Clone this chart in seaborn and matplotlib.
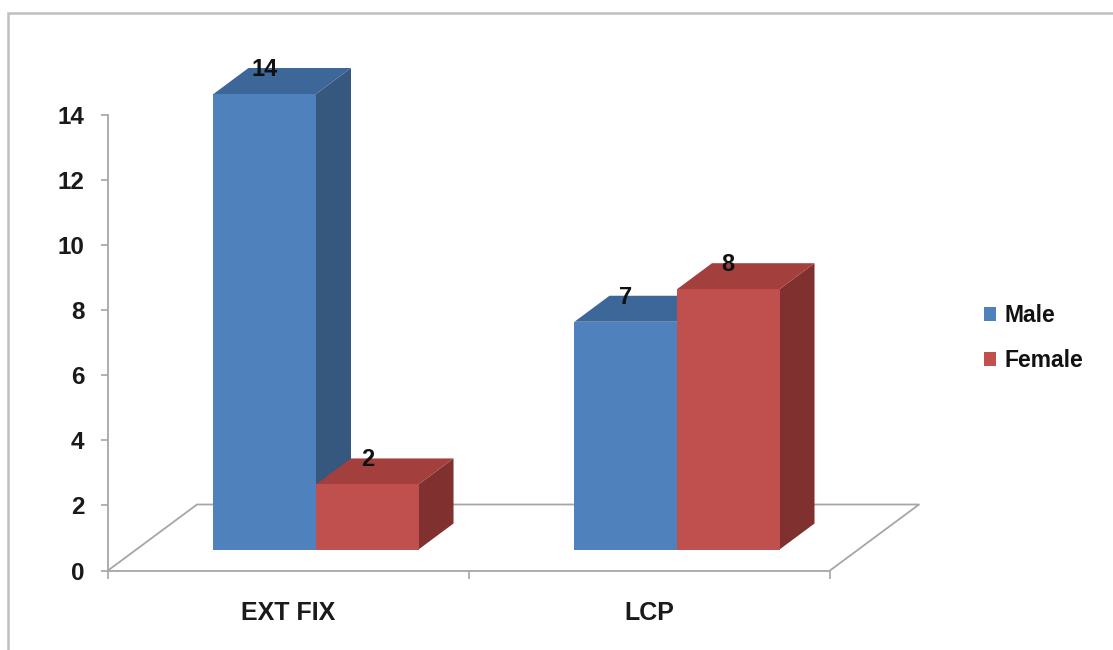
import matplotlib
matplotlib.use("Agg")
import matplotlib.pyplot as plt
from matplotlib.patches import Polygon, Patch, Rectangle
import seaborn as sns
import pandas as pd

# Data
categories = ["EXT FIX", "LCP"]
series = ["Male", "Female"]
male_counts = [14, 7]
female_counts = [2, 8]
y_ticks = [0, 2, 4, 6, 8, 10, 12, 14]

df = pd.DataFrame({
    "procedure": categories * 2,
    "sex": ["Male"] * len(categories) + ["Female"] * len(categories),
    "count": male_counts + female_counts,
})

front_colors = {"Male": "#4F81BD", "Female": "#C0504D"}
top_colors = {"Male": "#3D6699", "Female": "#A33F3C"}
side_colors = {"Male": "#36587F", "Female": "#80302E"}

sns.set_theme(style="white")
plt.rcParams["font.family"] = ["Liberation Sans", "DejaVu Sans"]
plt.rcParams["font.weight"] = "bold"

W, H = 1113, 650
fig = plt.figure(figsize=(W / 100, H / 100), dpi=100)

# pixel geometry of the front plane
x0_px, x1_px = 108, 830
y0_px, ytop_px = 570.5, 115
px_per_cat = (x1_px - x0_px) / 2
px_per_unit = (y0_px - ytop_px) / 14

# depth offsets (floor and bar boxes), in pixels
floor_dx_px, floor_dy_px = 89, 66
bar_shift_dx_px, bar_shift_dy_px = 27.5, 21
bar_depth_dx_px, bar_depth_dy_px = 35, 26

pos = [x0_px / W, 1 - y0_px / H, (x1_px - x0_px) / W, (y0_px - ytop_px) / H]
ax = fig.add_axes(pos)
axb = fig.add_axes([pos[0] + bar_shift_dx_px / W, pos[1] + bar_shift_dy_px / H, pos[2], pos[3]])

for a in (ax, axb):
    a.set_xlim(-0.5, 1.5)
    a.set_ylim(0, 14)
    a.patch.set_alpha(0)

grey = "#A6A6A6"

# Front plane axis
for s in ("top", "right"):
    ax.spines[s].set_visible(False)
ax.spines["left"].set_color(grey)
ax.spines["bottom"].set_color(grey)
ax.spines["left"].set_linewidth(1.3)
ax.spines["bottom"].set_linewidth(1.3)
ax.set_yticks(y_ticks)
ax.set_yticklabels([str(t) for t in y_ticks])
ax.set_xticks(range(len(categories)))
ax.set_xticklabels(categories)
ax.set_xticks([-0.5, 0.5, 1.5], minor=True)
ax.tick_params(axis="y", direction="out", length=5, width=1.2, color=grey,
               pad=12, labelsize=17.5, labelcolor="#1a1a1a", left=True)
ax.tick_params(axis="x", which="major", length=0, pad=22, labelsize=18,
               labelcolor="#1a1a1a", bottom=True)
ax.tick_params(axis="x", which="minor", direction="out", length=6, width=1.2,
               color=grey, bottom=True)
for lbl in ax.get_xticklabels() + ax.get_yticklabels():
    lbl.set_fontweight("bold")

# Floor parallelogram
fdx = floor_dx_px / px_per_cat
fdy = floor_dy_px / px_per_unit
ax.plot([-0.5, -0.5 + fdx, 1.5 + fdx, 1.5], [0, fdy, fdy, 0],
        color=grey, lw=1.3, clip_on=False, zorder=1)

# Bars (front faces)
sns.barplot(data=df, x="procedure", y="count", hue="sex", order=categories,
            hue_order=series, palette=front_colors, saturation=1, width=0.568,
            legend=False, ax=axb, linewidth=0, edgecolor="none")
axb.set_axis_off()
axb.set_xlim(-0.5, 1.5)

ddx = bar_depth_dx_px / px_per_cat
ddy = bar_depth_dy_px / px_per_unit

bars = [p for p in axb.patches if p.get_height() > 0]
bars.sort(key=lambda p: p.get_x())
color_to_sex = {}
for s in series:
    color_to_sex[matplotlib.colors.to_hex(front_colors[s])] = s

for i, p in enumerate(bars):
    xl = p.get_x()
    xr = xl + p.get_width()
    v = p.get_height()
    sex = color_to_sex[matplotlib.colors.to_hex(p.get_facecolor())]
    z = 3 + i
    side = Polygon([(xr, 0), (xr + ddx, ddy), (xr + ddx, v + ddy), (xr, v)],
                   closed=True, facecolor=side_colors[sex], edgecolor="none",
                   zorder=z, clip_on=False)
    top = Polygon([(xl, v), (xl + ddx, v + ddy), (xr + ddx, v + ddy), (xr, v)],
                  closed=True, facecolor=top_colors[sex], edgecolor="none",
                  zorder=z, clip_on=False)
    axb.add_patch(side)
    axb.add_patch(top)
    p.set_zorder(z + 0.5)
    p.set_clip_on(False)
    axb.text((xl + xr) / 2, v + ddy * 0.95, f"{v:g}", ha="center", va="center",
             fontsize=17, fontweight="bold", color="#111111", zorder=20,
             clip_on=False)

# Legend
handles = [Patch(facecolor=front_colors[s], edgecolor="none") for s in series]
fig.legend(handles, series, loc="center left",
           bbox_to_anchor=(963 / W, 1 - 338 / H), frameon=False,
           handlelength=0.55, handleheight=0.55, handletextpad=0.35,
           labelspacing=0.95, prop={"size": 16.5, "weight": "bold"},
           labelcolor="#111111")

# Outer frame
fig.add_artist(Rectangle((8 / W, -0.1), 1.2, 1.1 - 13 / H,
                         transform=fig.transFigure, fill=False,
                         edgecolor="#BFBFBF", linewidth=1.8))

fig.savefig("out.png", dpi=100)
